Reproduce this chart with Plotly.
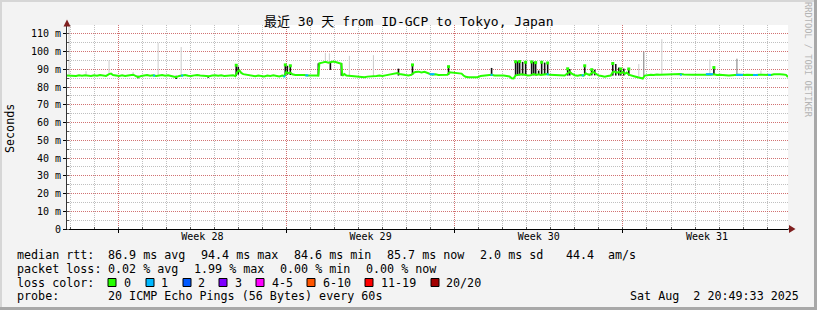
import plotly.graph_objects as go
from datetime import datetime, timedelta

W, H = 817, 310
START = datetime(2025, 7, 3, 20, 49, 33)
END = START + timedelta(days=30)

# ---------------- data ----------------
# median rtt (ms), sampled in hours since START
median_hours = [0, 3, 6, 9, 12, 15, 18, 21, 24, 27, 30, 33, 36, 39, 42, 44, 46, 49, 52, 55, 58, 61, 64, 66, 68, 71,
                74, 77, 80, 83, 86, 89, 92, 95, 98, 101, 104, 107, 109, 112, 115, 118, 121, 124, 127, 130, 133, 136,
                139, 142, 145, 148, 151, 154, 157, 160, 163, 166, 168, 170, 172, 174, 176, 179, 182, 185, 188, 191,
                194, 197, 200, 203, 206, 209, 212, 215, 217, 219, 221, 223, 225, 228, 231, 234, 237, 240, 243, 246,
                249, 251, 252, 255, 258, 261, 264, 266, 269, 272, 274, 275, 277, 279, 282, 285, 288, 291, 294, 297,
                300, 303, 306, 309, 312, 315, 318, 321, 324, 327, 330, 332, 335, 338, 341, 344, 346, 348, 351, 354,
                357, 360, 362, 365, 368, 371, 374, 377, 380, 382, 385, 388, 391, 394, 396, 398, 401, 404, 407, 410,
                413, 416, 419, 422, 424, 427, 430, 433, 436, 439, 442, 444, 446, 448, 451, 454, 457, 460, 463, 466,
                469, 471, 473, 476, 479, 482, 485, 488, 491, 494, 497, 500, 502, 504, 507, 510, 513, 516, 518, 520,
                522, 524, 526, 528, 531, 534, 537, 540, 543, 545, 547, 549, 551, 553, 555, 557, 559, 561, 564, 567,
                570, 573, 575, 577, 580, 583, 586, 589, 592, 595, 598, 601, 604, 607, 610, 613, 616, 619, 622, 625,
                628, 631, 634, 637, 640, 643, 646, 649, 652, 655, 658, 661, 664, 667, 670, 673, 676, 679, 682, 685,
                688, 691, 694, 697, 700, 703, 706, 709, 712, 715, 718, 720]
median_ms = [86.6, 86.4, 86.5, 86.3, 86.6, 86.4, 86.7, 86.5, 86.3, 86.6, 86.4, 86.8, 86.5, 86.3, 87.3, 87.6, 86.8,
             86.5, 86.3, 86.6, 86.2, 86.5, 86.9, 87.0, 86.4, 85.6, 86.2, 86.5, 86.8, 86.4, 86.6, 86.2, 86.5, 86.8,
             86.4, 86.6, 86.3, 86.1, 85.6, 86.3, 86.6, 86.8, 86.4, 86.2, 86.6, 86.8, 86.5, 86.3, 86.4, 86.1, 86.5,
             86.7, 86.4, 86.6, 86.3, 86.5, 86.4, 86.7, 86.2, 88.5, 89.5, 88.0, 87.3, 86.9, 86.6, 86.4, 86.1, 86.5,
             86.3, 86.0, 86.5, 86.3, 86.6, 86.2, 86.0, 86.5, 86.2, 88.5, 87.8, 88.2, 87.2, 86.8, 86.9, 86.7, 86.8,
             86.6, 86.7, 86.9, 86.6, 86.5, 93.4, 93.8, 94.2, 93.8, 94.0, 94.4, 94.0, 93.6, 93.2, 86.4, 87.4, 86.5,
             86.3, 86.2, 85.9, 85.7, 85.8, 85.6, 85.9, 86.0, 85.8, 86.3, 86.5, 86.3, 86.6, 86.9, 87.2, 87.6, 87.9,
             87.4, 86.9, 86.8, 86.6, 86.9, 88.0, 88.5, 88.7, 88.3, 88.6, 88.2, 87.5, 87.0, 87.2, 86.8, 86.9, 86.7,
             87.0, 88.4, 88.2, 87.9, 87.8, 87.6, 86.5, 85.8, 85.5, 85.6, 85.9, 85.6, 86.2, 86.5, 86.7, 86.8, 87.0,
             86.6, 86.8, 86.6, 86.5, 86.2, 86.0, 85.0, 84.9, 86.6, 86.8, 87.2, 86.9, 86.5, 86.6, 87.4, 86.9, 87.2,
             86.8, 87.0, 87.3, 86.9, 86.8, 86.4, 86.6, 86.3, 86.5, 87.8, 88.6, 87.6, 86.7, 86.4, 86.8, 86.5, 87.8,
             87.2, 86.8, 88.0, 88.4, 87.6, 86.5, 86.3, 85.9, 86.2, 86.5, 88.5, 88.8, 88.0, 88.6, 87.8, 88.5, 87.5,
             88.2, 87.0, 86.3, 86.0, 85.5, 85.0, 84.8, 86.5, 86.9, 87.0, 86.8, 87.1, 86.9, 87.0, 86.8, 87.0, 86.9,
             87.1, 87.3, 87.4, 87.1, 86.9, 86.8, 86.9, 87.0, 86.8, 86.9, 87.0, 86.8, 86.9, 87.2, 86.8, 86.9, 87.0,
             86.7, 86.6, 86.9, 86.8, 86.9, 86.7, 86.8, 87.0, 86.9, 86.7, 86.8, 87.0, 86.9, 86.8, 86.6, 86.8, 87.2,
             87.4, 87.3, 87.1, 86.9, 85.7]

# median segments drawn in the "1 lost" colour (None separates segments)
loss1_hours = [86, 88, None, 114, 116, None, 216, 218, None, 238, 241, None, 362, 367, None, 423, 425, None,
               479, 481, None, 514, 516, None, 612, 614, None, 638, 645, None, 668, 675, None, 685, 690, None,
               700, 703]
loss1_ms = [86.5, 86.5, None, 86.5, 86.5, None, 86.0, 86.0, None, 86.6, 86.6, None, 87.3, 87.3, None, 86.9, 86.9,
            None, 87.2, 87.2, None, 86.6, 86.6, None, 87.0, 87.0, None, 87.3, 87.3, None, 86.9, 86.9, None,
            86.8, 86.8, None, 86.9, 86.9]

# dark smoke spikes: hour, low (ms), high (ms)
spike_hours = [71, 109, 141, 169, 171, 218, 220, 223, 251, 263, 274, 331, 345, 381, 424, 448, 450, 452, 455, 458,
               464, 466, 468, 471, 474, 477, 480, 500, 502, 517, 524, 527, 545, 548, 551, 553, 556, 561, 646]
spike_low_ms = [85.0, 84.5, 85.2, 86.2, 87.0, 86.5, 87.0, 86.8, 86.5, 89.7, 86.4, 86.5, 86.8, 86.8, 86.6, 86.6,
                86.6, 86.6, 86.6, 86.6, 86.6, 86.6, 86.6, 86.8, 86.8, 86.8, 86.8, 86.5, 86.5, 86.6, 86.6, 86.6,
                86.5, 86.5, 86.5, 86.5, 86.5, 86.5, 86.9]
spike_high_ms = [86.4, 86.4, 86.3, 92.7, 91.5, 93.0, 92.0, 92.5, 93.4, 93.8, 93.6, 90.4, 93.0, 91.8, 90.8, 94.9,
                 94.5, 94.9, 94.2, 94.6, 94.5, 94.3, 94.0, 89.3, 94.3, 93.8, 94.0, 90.6, 90.2, 92.3, 90.1, 89.8,
                 93.6, 93.0, 91.0, 90.4, 90.4, 90.4, 91.2]
# spikes whose top carries a median dot
peak_hours = [169, 218, 223, 345, 381, 448, 452, 458, 464, 468, 474, 480, 500, 517, 524, 545, 553, 561, 646]
peak_ms = [92.3, 92.5, 92.0, 92.5, 91.5, 94.3, 94.4, 94.0, 94.2, 93.8, 94.0, 93.6, 90.3, 92.0, 89.8, 93.3, 90.2,
           90.2, 91.0]

# light smoke (max ping) spikes: hour, base, top
smoke_hours = [2, 19, 42, 66, 91, 114, 258, 262, 282, 306, 571, 594, 642, 693]
smoke_base_ms = [86.6, 86.7, 87.3, 87.0, 86.5, 86.6, 94.2, 94.0, 86.3, 85.9, 85.2, 87.0, 87.1, 86.9]
smoke_top_ms = [115.0, 89.0, 95.0, 88.5, 105.0, 102.6, 99.3, 99.0, 97.6, 98.0, 93.0, 107.0, 95.5, 89.3]
dark_smoke_hours = [576, 669]
dark_smoke_base_ms = [86.0, 86.9]
dark_smoke_top_ms = [100.0, 96.0]

week_starts = ["2025-07-06", "2025-07-13", "2025-07-20", "2025-07-27"]
week_mid = ["2025-07-09 12:00", "2025-07-16 12:00", "2025-07-23 12:00", "2025-07-30 12:00"]
week_labels = ["Week 28", "Week 29", "Week 30", "Week 31"]
y_ticks = [0, 10, 20, 30, 40, 50, 60, 70, 80, 90, 100, 110]
y_ticklabels = ["0"] + [f"{v} m" for v in y_ticks[1:]]

loss_labels = ["0", "1", "2", "3", "4-5", "6-10", "11-19", "20/20"]
loss_colors = ["#26ff00", "#00b8ff", "#0059ff", "#7e00ff", "#ff00ff", "#ff5500", "#ff0000", "#a10000"]

rtt_stats = ["86.9 ms avg", "94.4 ms max", "84.6 ms min", "85.7 ms now", "2.0 ms sd", "44.4", "am/s"]
loss_stats = ["0.02 % avg", "1.99 % max", "0.00 % min", "0.00 % now"]
probe_text = "20 ICMP Echo Pings (56 Bytes) every 60s"
stamp_text = "Sat Aug  2 20:49:33 2025"
title_text = "最近 30 天 from ID-GCP to Tokyo, Japan"

# ---------------- helpers ----------------
def t(h):
    return START + timedelta(hours=h)

def seg_x(hours):
    return [None if h is None else t(h) for h in hours]

def vbars(hours, lows, highs):
    xs, ys = [], []
    for h, lo, hi in zip(hours, lows, highs):
        xs += [t(h), t(h), None]
        ys += [lo, hi, None]
    return xs, ys

L, R, T, B = 67, 788, 25, 229
def px(x):
    return (x - L) / (R - L)
def py(y):
    return (B - y) / (B - T)

MONO = "DejaVu Sans Mono, Noto Sans CJK SC, monospace"
FS = 11.7

fig = go.Figure()

sx, sy = vbars(smoke_hours, smoke_base_ms, smoke_top_ms)
fig.add_trace(go.Scatter(x=sx, y=sy, mode="lines", line=dict(color="#cccccc", width=1),
                         hoverinfo="skip", showlegend=False))
dx, dy = vbars(dark_smoke_hours, dark_smoke_base_ms, dark_smoke_top_ms)
fig.add_trace(go.Scatter(x=dx, y=dy, mode="lines", line=dict(color="#7a7a7a", width=1),
                         hoverinfo="skip", showlegend=False))
bx, by = vbars(spike_hours, spike_low_ms, spike_high_ms)
fig.add_trace(go.Scatter(x=bx, y=by, mode="lines", line=dict(color="#111111", width=1.6),
                         hoverinfo="skip", showlegend=False))
fig.add_trace(go.Scatter(x=[t(h) for h in median_hours], y=median_ms, mode="lines",
                         line=dict(color=loss_colors[0], width=2), hoverinfo="skip", showlegend=False))
fig.add_trace(go.Scatter(x=seg_x(loss1_hours), y=loss1_ms, mode="lines",
                         line=dict(color=loss_colors[1], width=2), hoverinfo="skip", showlegend=False,
                         connectgaps=False))
fig.add_trace(go.Scatter(x=[t(h) for h in peak_hours], y=peak_ms, mode="markers",
                         marker=dict(color=loss_colors[0], size=3, symbol="square", line=dict(width=0)),
                         hoverinfo="skip", showlegend=False))
# carrier for the week-label axis
fig.add_trace(go.Scatter(x=[START, END], y=[None, None], xaxis="x2", mode="lines",
                         hoverinfo="skip", showlegend=False))

MAJ = "rgba(222,50,50,0.55)"
MIN = "rgba(130,130,130,0.5)"

fig.update_layout(
    width=W, height=H,
    margin=dict(l=L, r=W - R, t=T, b=H - B),
    paper_bgcolor="#f3f3f3", plot_bgcolor="#ffffff",
    showlegend=False,
    xaxis=dict(type="date", range=[START, END], tickmode="array", tickvals=week_starts,
               ticktext=[""] * len(week_starts), ticks="outside", ticklen=3, tickcolor="#000",
               showgrid=True, gridcolor=MAJ, griddash="1px,1px", gridwidth=1,
               minor=dict(dtick=86400000, tick0="2025-07-04", showgrid=True, gridcolor=MIN,
                          griddash="1px,1px", ticks="inside", ticklen=2, tickcolor="#555"),
               showline=True, linecolor="#000", linewidth=1, zeroline=False, fixedrange=True),
    xaxis2=dict(type="date", overlaying="x", side="bottom", anchor="y", range=[START, END],
                tickmode="array", tickvals=week_mid, ticktext=week_labels, ticks="",
                showgrid=False, showline=False, zeroline=False,
                tickfont=dict(family=MONO, size=10, color="#000"), fixedrange=True),
    yaxis=dict(range=[0, 115], tickmode="array", tickvals=y_ticks, ticktext=y_ticklabels,
               ticks="outside", ticklen=3, tickcolor="#000",
               tickfont=dict(family=MONO, size=10, color="#000"),
               showgrid=True, gridcolor=MAJ, griddash="1px,1px", gridwidth=1,
               minor=dict(dtick=5, showgrid=True, gridcolor=MIN, griddash="1px,1px",
                          ticks="inside", ticklen=2, tickcolor="#555"),
               showline=True, linecolor="#333", linewidth=1, zeroline=False, fixedrange=True),
)

ann = []
def text(x, y, s, xanchor="left", size=FS, color="#000", angle=0, family=MONO):
    ann.append(dict(x=px(x), y=py(y), xref="paper", yref="paper", text=s.replace(" ", "\u00a0"),
                    showarrow=False, xanchor=xanchor, yanchor="middle", textangle=angle,
                    font=dict(family=family, size=size, color=color), borderpad=0))

text(408.5, 21, title_text, xanchor="center", size=13)
text(10, 128, "Seconds", xanchor="center", angle=-90)
text(808, 60, "RRDTOOL / TOBI OETIKER", xanchor="center", size=8.7, color="#b4b4b4", angle=90)

row_y = [255, 268.5, 282.5, 296]
text(16, row_y[0], "median rtt:")
for s, x in zip(rtt_stats, [107, 200, 293, 386, 479, 565, 607]):
    text(x, row_y[0], s)
text(16, row_y[1], "packet loss:")
for s, x in zip(loss_stats, [107, 193, 279, 365]):
    text(x, row_y[1], s)
text(16, row_y[2], "loss color:")

shapes = []
box_x = [108, 146, 183, 219, 256, 307, 365, 431]
lab_x = [123, 160, 197, 234, 271, 322, 380, 445]
for c, lab, bxp, lxp in zip(loss_colors, loss_labels, box_x, lab_x):
    shapes.append(dict(type="rect", xref="paper", yref="paper", x0=px(bxp), x1=px(bxp + 8),
                       y0=py(286.5), y1=py(278.5), fillcolor=c, line=dict(color="#000", width=1)))
    text(lxp, row_y[2], lab)

text(16, row_y[3], "probe:")
text(107, row_y[3], probe_text)
text(800, row_y[3], stamp_text, xanchor="right")

# axis extensions and arrows
shapes.append(dict(type="line", xref="paper", yref="paper", x0=px(67), x1=px(67), y0=py(25), y1=py(22),
                   line=dict(color="#333", width=1)))
shapes.append(dict(type="line", xref="paper", yref="paper", x0=px(788), x1=px(790), y0=py(229), y1=py(229),
                   line=dict(color="#000", width=1)))
shapes.append(dict(type="path", xref="paper", yref="paper",
                   path=f"M {px(63.5)} {py(26.5)} L {px(67)} {py(19.5)} L {px(70.5)} {py(26.5)} Z",
                   fillcolor="#7f1f1f", line=dict(width=0)))
shapes.append(dict(type="path", xref="paper", yref="paper",
                   path=f"M {px(789)} {py(225)} L {px(795.5)} {py(229)} L {px(789)} {py(233)} Z",
                   fillcolor="#7f1f1f", line=dict(width=0)))
# frame shading
shapes.append(dict(type="rect", xref="paper", yref="paper", x0=px(0), x1=px(817), y0=py(0), y1=py(2),
                   fillcolor="#d6d6d6", line=dict(width=0), layer="below"))
shapes.append(dict(type="rect", xref="paper", yref="paper", x0=px(0), x1=px(2), y0=py(0), y1=py(310),
                   fillcolor="#d6d6d6", line=dict(width=0), layer="below"))
shapes.append(dict(type="rect", xref="paper", yref="paper", x0=px(814), x1=px(817), y0=py(0), y1=py(310),
                   fillcolor="#a8a8a8", line=dict(width=0), layer="below"))
shapes.append(dict(type="rect", xref="paper", yref="paper", x0=px(0), x1=px(817), y0=py(307), y1=py(310),
                   fillcolor="#a8a8a8", line=dict(width=0), layer="below"))

fig.update_layout(annotations=ann, shapes=shapes)
fig.write_html("out.html")
